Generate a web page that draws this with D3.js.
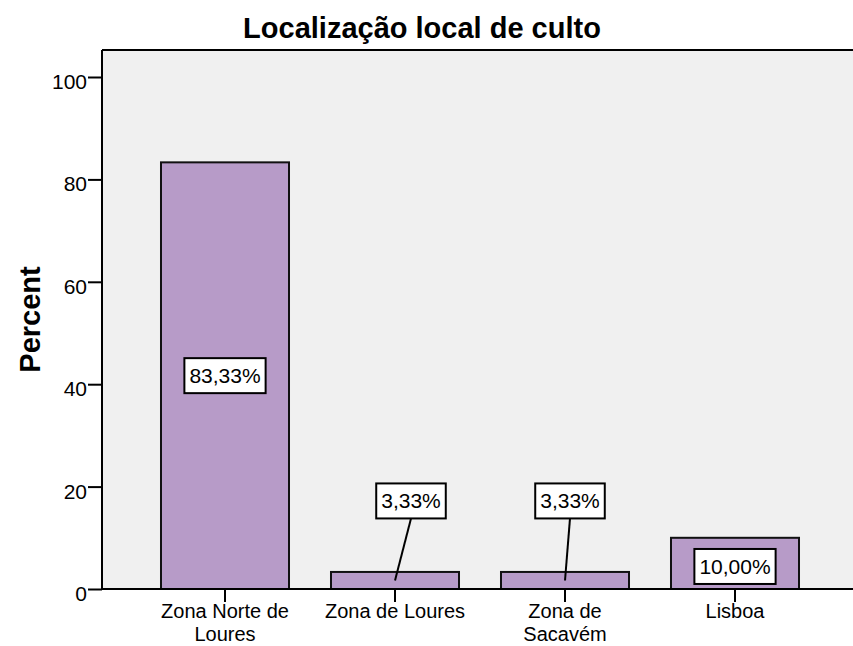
<!DOCTYPE html>
<html lang="pt">
<head>
  <meta charset="utf-8">
  <title>Localização local de culto</title>
  <script src="https://cdn.jsdelivr.net/npm/d3@7"></script>
  <style>
    body { margin: 0; background: #fff; }
    text { font-family: "Liberation Sans", Arial, sans-serif; fill: #000; }
  </style>
</head>
<body>
  <script>

    // Chart data
    var categories = ["Zona Norte de Loures", "Zona de Loures", "Zona de Sacavém", "Lisboa"];
    var categoryLines = [["Zona Norte de", "Loures"], ["Zona de Loures"], ["Zona de", "Sacavém"], ["Lisboa"]];
    var percents = [83.33, 3.33, 3.33, 10.00];
    var valueLabels = ["83,33%", "3,33%", "3,33%", "10,00%"];
    var yTicks = [0, 20, 40, 60, 80, 100];

    // where the value boxes sit (in data units) and their horizontal shift
    var labelAt = [41.67, 17.2, 17.2, 4.4];
    var labelShift = [0, 16, 5, 0];

    var w = 853;
    var h = 646;
    var plotLeft = 102, plotTop = 50, plotBottom = 589;

    var svg = d3.select("body")
      .append("svg")
      .attr("width", w)
      .attr("height", h);

    // x scale: one band per category
    var xScale = d3.scaleBand()
      .domain(categories)
      .range([140, 820])
      .paddingInner(0.247)
      .paddingOuter(0.1235);

    // y scale
    var yScale = d3.scaleLinear()
      .domain([0, 100])
      .range([plotBottom, plotBottom - 512]);

    // plot background
    svg.append("rect")
      .attr("x", plotLeft)
      .attr("y", plotTop)
      .attr("width", w - plotLeft)
      .attr("height", plotBottom - plotTop)
      .attr("fill", "#f0f0f0");

    // top frame line
    svg.append("line")
      .attr("x1", plotLeft).attr("x2", w)
      .attr("y1", plotTop).attr("y2", plotTop)
      .attr("stroke", "#000")
      .attr("stroke-width", 2);

    // bars
    svg.append("g")
      .selectAll("rect")
      .data(percents)
      .enter()
      .append("rect")
      .attr("x", function (d, i) { return xScale(categories[i]); })
      .attr("y", function (d) { return yScale(d); })
      .attr("width", xScale.bandwidth())
      .attr("height", function (d) { return plotBottom - yScale(d); })
      .attr("fill", "#b79bc8")
      .attr("stroke", "#111")
      .attr("stroke-width", 2);

    // y axis
    var yAxis = d3.axisLeft(yScale)
      .tickValues(yTicks)
      .tickSize(14)
      .tickFormat(d3.format("d"));

    var yg = svg.append("g")
      .attr("transform", "translate(" + plotLeft + ",0)")
      .call(yAxis);
    yg.select(".domain")
      .attr("d", "M0," + plotTop + "V" + plotBottom)
      .attr("stroke-width", 2);
    yg.selectAll(".tick line").attr("stroke-width", 2);
    yg.selectAll(".tick text")
      .attr("x", -15)
      .attr("dy", "0.55em")
      .attr("font-size", "21px")
      .attr("font-family", null);

    // x axis
    var xAxis = d3.axisBottom(xScale)
      .tickSize(13)
      .tickFormat("");

    var xg = svg.append("g")
      .attr("transform", "translate(0," + plotBottom + ")")
      .call(xAxis);
    xg.select(".domain")
      .attr("d", "M" + plotLeft + ",0H" + w)
      .attr("stroke-width", 2);
    xg.selectAll(".tick line").attr("stroke-width", 2);

    // category labels, wrapped like the original
    svg.append("g")
      .selectAll("text")
      .data(categories)
      .enter()
      .append("text")
      .attr("text-anchor", "middle")
      .attr("font-size", "20px")
      .attr("transform", function (d) {
        return "translate(" + (xScale(d) + xScale.bandwidth() / 2) + "," + 618 + ")";
      })
      .each(function (d, i) {
        var t = d3.select(this);
        categoryLines[i].forEach(function (line, j) {
          t.append("tspan")
            .attr("x", 0)
            .attr("y", j * 23)
            .text(line);
        });
      });

    // value boxes with leader lines
    var labels = svg.append("g")
      .selectAll("g")
      .data(percents)
      .enter()
      .append("g");

    labels.each(function (d, i) {
      var g = d3.select(this);
      var cx = xScale(categories[i]) + xScale.bandwidth() / 2;
      var lx = cx + labelShift[i];
      var ly = yScale(labelAt[i]);

      var txt = g.append("text")
        .attr("x", lx)
        .attr("y", ly)
        .attr("dy", "0.36em")
        .attr("text-anchor", "middle")
        .attr("font-size", "21px")
        .text(valueLabels[i]);

      var bw = txt.node().getComputedTextLength() + 10;
      var bh = 35;

      // leader line when the box sits above the bar
      if (labelAt[i] > d) {
        g.insert("line", "text")
          .attr("x1", lx)
          .attr("y1", ly + bh / 2)
          .attr("x2", cx)
          .attr("y2", yScale(d / 2))
          .attr("stroke", "#000")
          .attr("stroke-width", 2);
      }

      g.insert("rect", "text")
        .attr("x", lx - bw / 2)
        .attr("y", ly - bh / 2)
        .attr("width", bw)
        .attr("height", bh)
        .attr("fill", "#fff")
        .attr("stroke", "#000")
        .attr("stroke-width", 2);
    });

    // title
    svg.append("text")
      .attr("x", 422)
      .attr("y", 38)
      .attr("text-anchor", "middle")
      .attr("font-size", "29px")
      .attr("font-weight", "bold")
      .text("Localização local de culto");

    // y axis label
    svg.append("text")
      .attr("transform", "translate(40," + ((plotTop + plotBottom) / 2) + ") rotate(-90)")
      .attr("text-anchor", "middle")
      .attr("font-size", "29px")
      .attr("font-weight", "bold")
      .text("Percent");

  </script>
</body>
</html>
